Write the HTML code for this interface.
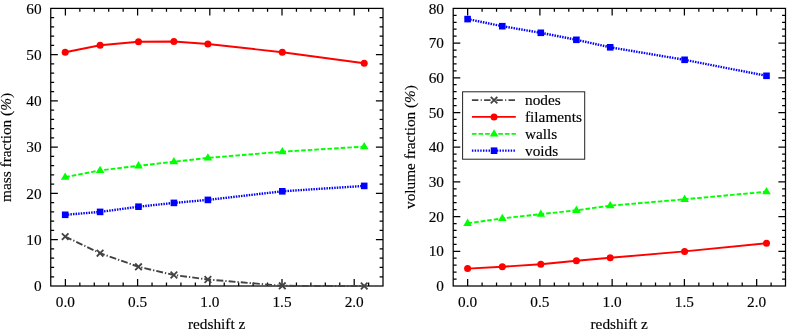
<!DOCTYPE html>
<html><head><meta charset="utf-8"><title>fractions vs redshift</title>
<style>
html,body{margin:0;padding:0;background:#fff;}
body{width:789px;height:332px;overflow:hidden;font-family:"Liberation Serif",serif;}
svg{display:block;will-change:transform;}
text{stroke:#000;stroke-width:0.15px;}
</style></head><body>
<svg width="789" height="332" viewBox="0 0 789 332" font-family="Liberation Serif, serif" font-size="15.3" fill="#000">
<path d="M65.2 214.8L100.1 211.9L138.5 206.7L173.9 202.9L207.9 199.9L282.3 191.3L364.2 185.9" stroke="#0000ff" stroke-width="2.4" fill="none" stroke-dasharray="1.5 1.1"/>
<rect x="61.9" y="211.5" width="6.6" height="6.6" fill="#0000ff"/>
<rect x="96.8" y="208.6" width="6.6" height="6.6" fill="#0000ff"/>
<rect x="135.2" y="203.4" width="6.6" height="6.6" fill="#0000ff"/>
<rect x="170.6" y="199.6" width="6.6" height="6.6" fill="#0000ff"/>
<rect x="204.6" y="196.6" width="6.6" height="6.6" fill="#0000ff"/>
<rect x="279" y="188" width="6.6" height="6.6" fill="#0000ff"/>
<rect x="360.9" y="182.6" width="6.6" height="6.6" fill="#0000ff"/>
<path d="M65.2 177.1L100.1 170.4L138.5 165.8L173.9 161.7L207.9 157.9L282.3 151.7L364.2 146.6" stroke="#00ff00" stroke-width="1.9" fill="none" stroke-dasharray="4.6 2"/>
<path d="M65.2 172.4L69.5 179.7H60.9Z" fill="#00ff00"/>
<path d="M100.1 165.7L104.4 173H95.8Z" fill="#00ff00"/>
<path d="M138.5 161.1L142.8 168.4H134.2Z" fill="#00ff00"/>
<path d="M173.9 157L178.2 164.3H169.6Z" fill="#00ff00"/>
<path d="M207.9 153.2L212.2 160.5H203.6Z" fill="#00ff00"/>
<path d="M282.3 147L286.6 154.3H278Z" fill="#00ff00"/>
<path d="M364.2 141.9L368.5 149.2H359.9Z" fill="#00ff00"/>
<path d="M65.2 52.2L100.1 45.3L138.5 41.75L173.9 41.5L207.9 44L282.3 52.2L364.2 63.2" stroke="#ff0000" stroke-width="1.9" fill="none"/>
<circle cx="65.2" cy="52.2" r="3.5" fill="#ff0000"/>
<circle cx="100.1" cy="45.3" r="3.5" fill="#ff0000"/>
<circle cx="138.5" cy="41.75" r="3.5" fill="#ff0000"/>
<circle cx="173.9" cy="41.5" r="3.5" fill="#ff0000"/>
<circle cx="207.9" cy="44" r="3.5" fill="#ff0000"/>
<circle cx="282.3" cy="52.2" r="3.5" fill="#ff0000"/>
<circle cx="364.2" cy="63.2" r="3.5" fill="#ff0000"/>
<rect x="50.75" y="8.4" width="332.25" height="277.6" fill="none" stroke="#000" stroke-width="1.25"/>
<path d="M65.4 286v-7.1M65.4 8.4v7.1M79.84 286v-3.4M79.84 8.4v3.4M94.28 286v-3.4M94.28 8.4v3.4M108.72 286v-3.4M108.72 8.4v3.4M123.16 286v-3.4M123.16 8.4v3.4M137.6 286v-7.1M137.6 8.4v7.1M152.04 286v-3.4M152.04 8.4v3.4M166.48 286v-3.4M166.48 8.4v3.4M180.92 286v-3.4M180.92 8.4v3.4M195.36 286v-3.4M195.36 8.4v3.4M209.8 286v-7.1M209.8 8.4v7.1M224.24 286v-3.4M224.24 8.4v3.4M238.68 286v-3.4M238.68 8.4v3.4M253.12 286v-3.4M253.12 8.4v3.4M267.56 286v-3.4M267.56 8.4v3.4M282 286v-7.1M282 8.4v7.1M296.44 286v-3.4M296.44 8.4v3.4M310.88 286v-3.4M310.88 8.4v3.4M325.32 286v-3.4M325.32 8.4v3.4M339.76 286v-3.4M339.76 8.4v3.4M354.2 286v-7.1M354.2 8.4v7.1M368.64 286v-3.4M368.64 8.4v3.4M50.75 276.75h3.4M383 276.75h-3.4M50.75 267.49h3.4M383 267.49h-3.4M50.75 258.24h3.4M383 258.24h-3.4M50.75 248.99h3.4M383 248.99h-3.4M50.75 239.73h7.1M383 239.73h-7.1M50.75 230.48h3.4M383 230.48h-3.4M50.75 221.23h3.4M383 221.23h-3.4M50.75 211.97h3.4M383 211.97h-3.4M50.75 202.72h3.4M383 202.72h-3.4M50.75 193.47h7.1M383 193.47h-7.1M50.75 184.21h3.4M383 184.21h-3.4M50.75 174.96h3.4M383 174.96h-3.4M50.75 165.71h3.4M383 165.71h-3.4M50.75 156.45h3.4M383 156.45h-3.4M50.75 147.2h7.1M383 147.2h-7.1M50.75 137.95h3.4M383 137.95h-3.4M50.75 128.69h3.4M383 128.69h-3.4M50.75 119.44h3.4M383 119.44h-3.4M50.75 110.19h3.4M383 110.19h-3.4M50.75 100.93h7.1M383 100.93h-7.1M50.75 91.68h3.4M383 91.68h-3.4M50.75 82.43h3.4M383 82.43h-3.4M50.75 73.17h3.4M383 73.17h-3.4M50.75 63.92h3.4M383 63.92h-3.4M50.75 54.67h7.1M383 54.67h-7.1M50.75 45.41h3.4M383 45.41h-3.4M50.75 36.16h3.4M383 36.16h-3.4M50.75 26.91h3.4M383 26.91h-3.4M50.75 17.65h3.4M383 17.65h-3.4" stroke="#000" stroke-width="1.25" fill="none"/>
<text x="65.4" y="306.5" text-anchor="middle">0.0</text>
<text x="137.6" y="306.5" text-anchor="middle">0.5</text>
<text x="209.8" y="306.5" text-anchor="middle">1.0</text>
<text x="282" y="306.5" text-anchor="middle">1.5</text>
<text x="354.2" y="306.5" text-anchor="middle">2.0</text>
<text x="41.55" y="291.1" text-anchor="end">0</text>
<text x="41.55" y="244.83" text-anchor="end">10</text>
<text x="41.55" y="198.57" text-anchor="end">20</text>
<text x="41.55" y="152.3" text-anchor="end">30</text>
<text x="41.55" y="106.03" text-anchor="end">40</text>
<text x="41.55" y="59.77" text-anchor="end">50</text>
<text x="41.55" y="13.5" text-anchor="end">60</text>
<path d="M65.2 236.6L100.1 253.2L138.5 266.8L173.9 275L207.9 279.5L282.3 285.8L364.2 286" stroke="#434343" stroke-width="1.9" fill="none" stroke-dasharray="6.9 2 1.3 2"/>
<path d="M61.9 233.3l6.6 6.6M61.9 239.9l6.6 -6.6" stroke="#434343" stroke-width="1.8" fill="none"/>
<path d="M96.8 249.9l6.6 6.6M96.8 256.5l6.6 -6.6" stroke="#434343" stroke-width="1.8" fill="none"/>
<path d="M135.2 263.5l6.6 6.6M135.2 270.1l6.6 -6.6" stroke="#434343" stroke-width="1.8" fill="none"/>
<path d="M170.6 271.7l6.6 6.6M170.6 278.3l6.6 -6.6" stroke="#434343" stroke-width="1.8" fill="none"/>
<path d="M204.6 276.2l6.6 6.6M204.6 282.8l6.6 -6.6" stroke="#434343" stroke-width="1.8" fill="none"/>
<path d="M279 282.5l6.6 6.6M279 289.1l6.6 -6.6" stroke="#434343" stroke-width="1.8" fill="none"/>
<path d="M360.9 282.7l6.6 6.6M360.9 289.3l6.6 -6.6" stroke="#434343" stroke-width="1.8" fill="none"/>
<text x="216.6" y="328.9" text-anchor="middle">redshift z</text>
<text transform="translate(11.4 147.4) rotate(-90)" text-anchor="middle" textLength="109" lengthAdjust="spacingAndGlyphs">mass fraction (<tspan font-style="italic">%</tspan>)</text>
<path d="M467.6 19.1L502.3 26.2L540.8 32.8L576.4 39.8L610.2 47.3L684.6 59.8L766.5 75.8" stroke="#0000ff" stroke-width="2.4" fill="none" stroke-dasharray="1.5 1.1"/>
<rect x="464.3" y="15.8" width="6.6" height="6.6" fill="#0000ff"/>
<rect x="499" y="22.9" width="6.6" height="6.6" fill="#0000ff"/>
<rect x="537.5" y="29.5" width="6.6" height="6.6" fill="#0000ff"/>
<rect x="573.1" y="36.5" width="6.6" height="6.6" fill="#0000ff"/>
<rect x="606.9" y="44" width="6.6" height="6.6" fill="#0000ff"/>
<rect x="681.3" y="56.5" width="6.6" height="6.6" fill="#0000ff"/>
<rect x="763.2" y="72.5" width="6.6" height="6.6" fill="#0000ff"/>
<path d="M467.6 223.3L502.3 218.4L540.8 214.1L576.4 210.3L610.2 205.7L684.6 199.3L766.5 191.7" stroke="#00ff00" stroke-width="1.9" fill="none" stroke-dasharray="4.6 2"/>
<path d="M467.6 218.6L471.9 225.9H463.3Z" fill="#00ff00"/>
<path d="M502.3 213.7L506.6 221H498Z" fill="#00ff00"/>
<path d="M540.8 209.4L545.1 216.7H536.5Z" fill="#00ff00"/>
<path d="M576.4 205.6L580.7 212.9H572.1Z" fill="#00ff00"/>
<path d="M610.2 201L614.5 208.3H605.9Z" fill="#00ff00"/>
<path d="M684.6 194.6L688.9 201.9H680.3Z" fill="#00ff00"/>
<path d="M766.5 187L770.8 194.3H762.2Z" fill="#00ff00"/>
<path d="M467.6 268.6L502.3 266.7L540.8 264.3L576.4 260.7L610.2 257.8L684.6 251.4L766.5 243.2" stroke="#ff0000" stroke-width="1.9" fill="none"/>
<circle cx="467.6" cy="268.6" r="3.5" fill="#ff0000"/>
<circle cx="502.3" cy="266.7" r="3.5" fill="#ff0000"/>
<circle cx="540.8" cy="264.3" r="3.5" fill="#ff0000"/>
<circle cx="576.4" cy="260.7" r="3.5" fill="#ff0000"/>
<circle cx="610.2" cy="257.8" r="3.5" fill="#ff0000"/>
<circle cx="684.6" cy="251.4" r="3.5" fill="#ff0000"/>
<circle cx="766.5" cy="243.2" r="3.5" fill="#ff0000"/>
<rect x="453.2" y="8.4" width="332.3" height="277.6" fill="none" stroke="#000" stroke-width="1.25"/>
<path d="M467.65 286v-7.1M467.65 8.4v7.1M482.1 286v-3.4M482.1 8.4v3.4M496.55 286v-3.4M496.55 8.4v3.4M511 286v-3.4M511 8.4v3.4M525.45 286v-3.4M525.45 8.4v3.4M539.9 286v-7.1M539.9 8.4v7.1M554.35 286v-3.4M554.35 8.4v3.4M568.8 286v-3.4M568.8 8.4v3.4M583.25 286v-3.4M583.25 8.4v3.4M597.7 286v-3.4M597.7 8.4v3.4M612.15 286v-7.1M612.15 8.4v7.1M626.6 286v-3.4M626.6 8.4v3.4M641.05 286v-3.4M641.05 8.4v3.4M655.5 286v-3.4M655.5 8.4v3.4M669.95 286v-3.4M669.95 8.4v3.4M684.4 286v-7.1M684.4 8.4v7.1M698.85 286v-3.4M698.85 8.4v3.4M713.3 286v-3.4M713.3 8.4v3.4M727.75 286v-3.4M727.75 8.4v3.4M742.2 286v-3.4M742.2 8.4v3.4M756.65 286v-7.1M756.65 8.4v7.1M771.1 286v-3.4M771.1 8.4v3.4M453.2 279.06h3.4M785.5 279.06h-3.4M453.2 272.12h3.4M785.5 272.12h-3.4M453.2 265.18h3.4M785.5 265.18h-3.4M453.2 258.24h3.4M785.5 258.24h-3.4M453.2 251.3h7.1M785.5 251.3h-7.1M453.2 244.36h3.4M785.5 244.36h-3.4M453.2 237.42h3.4M785.5 237.42h-3.4M453.2 230.48h3.4M785.5 230.48h-3.4M453.2 223.54h3.4M785.5 223.54h-3.4M453.2 216.6h7.1M785.5 216.6h-7.1M453.2 209.66h3.4M785.5 209.66h-3.4M453.2 202.72h3.4M785.5 202.72h-3.4M453.2 195.78h3.4M785.5 195.78h-3.4M453.2 188.84h3.4M785.5 188.84h-3.4M453.2 181.9h7.1M785.5 181.9h-7.1M453.2 174.96h3.4M785.5 174.96h-3.4M453.2 168.02h3.4M785.5 168.02h-3.4M453.2 161.08h3.4M785.5 161.08h-3.4M453.2 154.14h3.4M785.5 154.14h-3.4M453.2 147.2h7.1M785.5 147.2h-7.1M453.2 140.26h3.4M785.5 140.26h-3.4M453.2 133.32h3.4M785.5 133.32h-3.4M453.2 126.38h3.4M785.5 126.38h-3.4M453.2 119.44h3.4M785.5 119.44h-3.4M453.2 112.5h7.1M785.5 112.5h-7.1M453.2 105.56h3.4M785.5 105.56h-3.4M453.2 98.62h3.4M785.5 98.62h-3.4M453.2 91.68h3.4M785.5 91.68h-3.4M453.2 84.74h3.4M785.5 84.74h-3.4M453.2 77.8h7.1M785.5 77.8h-7.1M453.2 70.86h3.4M785.5 70.86h-3.4M453.2 63.92h3.4M785.5 63.92h-3.4M453.2 56.98h3.4M785.5 56.98h-3.4M453.2 50.04h3.4M785.5 50.04h-3.4M453.2 43.1h7.1M785.5 43.1h-7.1M453.2 36.16h3.4M785.5 36.16h-3.4M453.2 29.22h3.4M785.5 29.22h-3.4M453.2 22.28h3.4M785.5 22.28h-3.4M453.2 15.34h3.4M785.5 15.34h-3.4" stroke="#000" stroke-width="1.25" fill="none"/>
<text x="467.65" y="306.5" text-anchor="middle">0.0</text>
<text x="539.9" y="306.5" text-anchor="middle">0.5</text>
<text x="612.15" y="306.5" text-anchor="middle">1.0</text>
<text x="684.4" y="306.5" text-anchor="middle">1.5</text>
<text x="756.65" y="306.5" text-anchor="middle">2.0</text>
<text x="444" y="291.1" text-anchor="end">0</text>
<text x="444" y="256.4" text-anchor="end">10</text>
<text x="444" y="221.7" text-anchor="end">20</text>
<text x="444" y="187" text-anchor="end">30</text>
<text x="444" y="152.3" text-anchor="end">40</text>
<text x="444" y="117.6" text-anchor="end">50</text>
<text x="444" y="82.9" text-anchor="end">60</text>
<text x="444" y="48.2" text-anchor="end">70</text>
<text x="444" y="13.5" text-anchor="end">80</text>
<text x="619.2" y="328.9" text-anchor="middle">redshift z</text>
<text transform="translate(415.1 147.05) rotate(-90)" text-anchor="middle" textLength="123.9" lengthAdjust="spacingAndGlyphs">volume fraction (<tspan font-style="italic">%</tspan>)</text>
<rect x="462.6" y="91.8" width="122.1" height="67.4" fill="#fff" stroke="#222" stroke-width="1"/>
<path d="M471.9 100.1H515.8" stroke="#434343" stroke-width="1.6" fill="none" stroke-dasharray="6.5 2.3 1.1 2.3"/>
<path d="M490.75 96.8l6.6 6.6M490.75 103.4l6.6 -6.6" stroke="#434343" stroke-width="1.8" fill="none"/>
<text x="525.0" y="105.1">nodes</text>
<path d="M471.9 116.9H515.8" stroke="#ff0000" stroke-width="1.6" fill="none"/>
<circle cx="494.05" cy="116.9" r="3.5" fill="#ff0000"/>
<text x="525.0" y="121.6">filaments</text>
<path d="M471.9 133.9H515.8" stroke="#00ff00" stroke-width="1.6" fill="none" stroke-dasharray="4.6 2"/>
<path d="M494.05 129.2L498.35 136.5H489.75Z" fill="#00ff00"/>
<text x="525.0" y="138.9">walls</text>
<path d="M471.9 150.7H515.8" stroke="#0000ff" stroke-width="2.3" fill="none" stroke-dasharray="1.45 1.32"/>
<rect x="490.75" y="147.4" width="6.6" height="6.6" fill="#0000ff"/>
<text x="525.0" y="155.9">voids</text>
</svg>
</body></html>
